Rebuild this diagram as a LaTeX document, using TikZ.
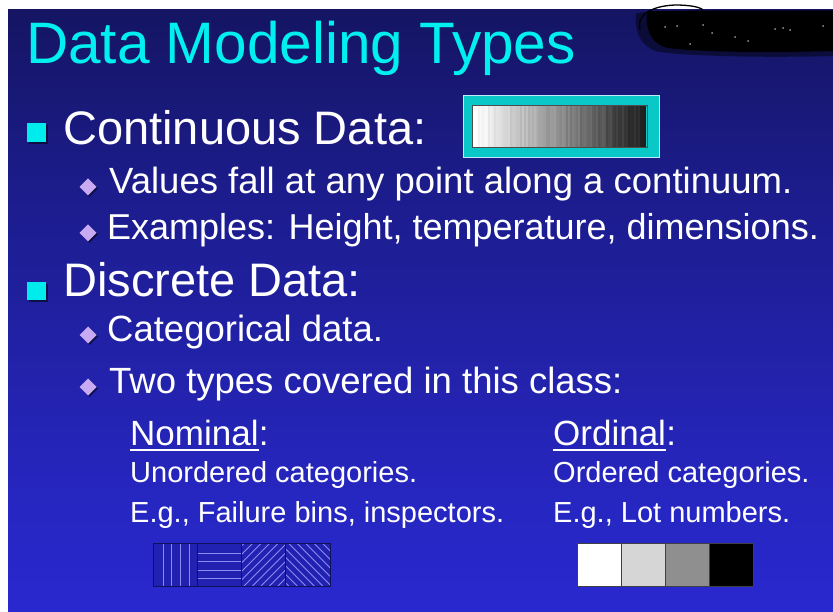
\documentclass[tikz,border=0pt]{standalone}
\usepackage{fontspec}
\setmainfont{Liberation Sans}
\definecolor{titlecyan}{RGB}{0,240,240}
\definecolor{sqcyan}{RGB}{0,235,235}
\definecolor{boxcyan}{RGB}{10,200,200}
\definecolor{lav}{RGB}{200,170,242}
\definecolor{hatchbg}{RGB}{34,34,178}
\definecolor{hatchln}{RGB}{140,140,245}
\definecolor{hatchedge}{RGB}{16,16,90}
\definecolor{dropshadow}{RGB}{8,8,36}
\definecolor{bgA}{RGB}{44,44,232}
\definecolor{bgB}{RGB}{42,42,222}
\definecolor{bgC}{RGB}{38,38,192}
\definecolor{bgD}{RGB}{28,28,140}
\definecolor{bgE}{RGB}{16,16,72}
\definecolor{bgF}{RGB}{12,10,40}
\pgfdeclareverticalshading{slidebg}{100bp}{%
  color(0bp)=(bgA); color(15bp)=(bgB); color(35bp)=(bgC);
  color(60bp)=(bgD); color(85bp)=(bgE); color(100bp)=(bgF)}
% diamond bullet centred at x, y
\newcommand{\dia}[2]{%
  \fill[dropshadow, opacity=0.7] (#1+1.5,#2-7) -- (#1+10,#2+1.5) -- (#1+1.5,#2+10) -- (#1-7,#2+1.5) -- cycle;
  \fill[lav] (#1,#2-8.5) -- (#1+8.5,#2) -- (#1,#2+8.5) -- (#1-8.5,#2) -- cycle;}
\begin{document}
\begin{tikzpicture}[x=1pt,y=-1pt,
  txt/.style={anchor=base west, inner sep=0pt, text=white},
  big/.style={txt, font=\fontsize{47}{47}\selectfont},
  mid/.style={txt, font=\fontsize{36.5}{36.5}\selectfont},
  head/.style={txt, font=\fontsize{35}{35}\selectfont},
  small/.style={txt, font=\fontsize{29}{29}\selectfont},
  sqbullet/.style={fill=sqcyan},
  hatch/.style={hatchln, line width=1pt},
  graysq/.style={draw=black!75, line width=1pt}]
\useasboundingbox (0,0) rectangle (833,612);
\fill[white] (0,0) rectangle (833,612);
\shade[shading=slidebg] (8,10) rectangle (833,612);

% scribbled-out corner
\fill[black, opacity=0.45] (636,14) .. controls (640,10) and (700,10) .. (833,10)
  -- (833,56) .. controls (760,58) and (690,56) .. (660,52) .. controls (640,48) and (634,30) .. cycle;
\fill[black] (648,11) -- (833,11) -- (833,51) .. controls (760,53) and (700,52) .. (668,48)
  .. controls (650,44) and (644,26) .. cycle;
\draw[black, line width=1.3pt] (640,30) .. controls (636,16) and (650,6) .. (675,5)
  .. controls (690,5) and (700,7) .. (703,10);
\foreach \px/\py in {665/27,677/26,703/25,735/37,775/29,783/28,790/30,823/26,690/44,748/41,712/33}
  \fill[white!60!black] (\px,\py) circle (1);

% title
\node[txt, text=titlecyan, font=\fontsize{58.5}{58.5}\selectfont] (title) at (26,64) {Data Modeling Types};

% continuous data
\fill[dropshadow, opacity=0.7] (28.8,124.8) rectangle (47.8,143.8);
\fill[sqbullet] (27,123) rectangle (46,142);
\node[big] (cont) at (63,145) {Continuous Data:};
\draw[fill=boxcyan, draw=white!75!cyan, line width=1pt] (463,96) rectangle (659,158);
\pgfmathsetseed{7}
\foreach \i in {0,...,86}{
  \pgfmathsetmacro{\g}{max(10,min(100,100-\i*1.03+rand*4))}
  \fill[white!\g!black] (472+2*\i,105) rectangle (474.4+2*\i,147);
}
\draw[black!70, line width=0.8pt] (472,105) rectangle (647,147);
\dia{88}{187}
\node[mid] (vals) at (109,194) {Values fall at any point along a continuum.};
\dia{88}{233}
\node[mid, font=\fontsize{36}{36}\selectfont] (exmp) at (107,240) {Examples: Height, temperature, dimensions.};

% discrete data
\fill[dropshadow, opacity=0.7] (28.8,283.8) rectangle (47.8,301.8);
\fill[sqbullet] (27,282) rectangle (46,300);
\node[big] (disc) at (63,297) {Discrete Data:};
\dia{88}{335}
\node[mid] (cat) at (107,342) {Categorical data.};
\dia{88}{387}
\node[mid] (two) at (109,394) {Two types covered in this class:};

% nominal column
\node[head] (nom) at (130,445) {Nominal};
\node[head] (nomcolon) at (nom.base east) {:};
\draw[white, line width=2pt] ([yshift=-5pt]nom.base west) -- ([yshift=-5pt]nom.base east);
\node[small] (unord) at (130,482) {Unordered categories.};
\node[small] (egnom) at (130,522) {E.g., Failure bins, inspectors.};

% ordinal column
\node[head] (ord) at (553,445) {Ordinal};
\node[head] (ordcolon) at (ord.base east) {:};
\draw[white, line width=2pt] ([yshift=-5pt]ord.base west) -- ([yshift=-5pt]ord.base east);
\node[small] (orded) at (553,482) {Ordered categories.};
\node[small] (egord) at (553,522) {E.g., Lot numbers.};

% hatched swatches
\foreach \k in {0,1,2,3}
  \fill[hatchbg] (153+44.25*\k,543) rectangle (197.25+44.25*\k,586);
\foreach \dx in {10,18.7,27.4,36.1}
  \draw[hatch] (153+\dx,543) -- (153+\dx,586);
\foreach \dy in {10,18.5,27,35.5}
  \draw[hatch] (197.25,543+\dy) -- (241.5,543+\dy);
\begin{scope}
  \clip (241.5,543) rectangle (285.75,586);
  \foreach \t in {-40,-31.5,...,50}
    \draw[hatch] (241.5+\t,586) -- (241.5+\t+43,543);
\end{scope}
\begin{scope}
  \clip (285.75,543) rectangle (330,586);
  \foreach \t in {-40,-31.5,...,50}
    \draw[hatch] (285.75+\t,543) -- (285.75+\t+43,586);
\end{scope}
\foreach \k in {0,1,2,3}
  \draw[hatchedge, line width=1pt] (153+44.25*\k,543) rectangle (197.25+44.25*\k,586);

% grey-level swatches
\draw[graysq, fill=white] (577,543) rectangle (621,586);
\draw[graysq, fill=black!16] (621,543) rectangle (665,586);
\draw[graysq, fill=black!44] (665,543) rectangle (709,586);
\draw[graysq, fill=black] (709,543) rectangle (753,586);
\end{tikzpicture}
\end{document}
